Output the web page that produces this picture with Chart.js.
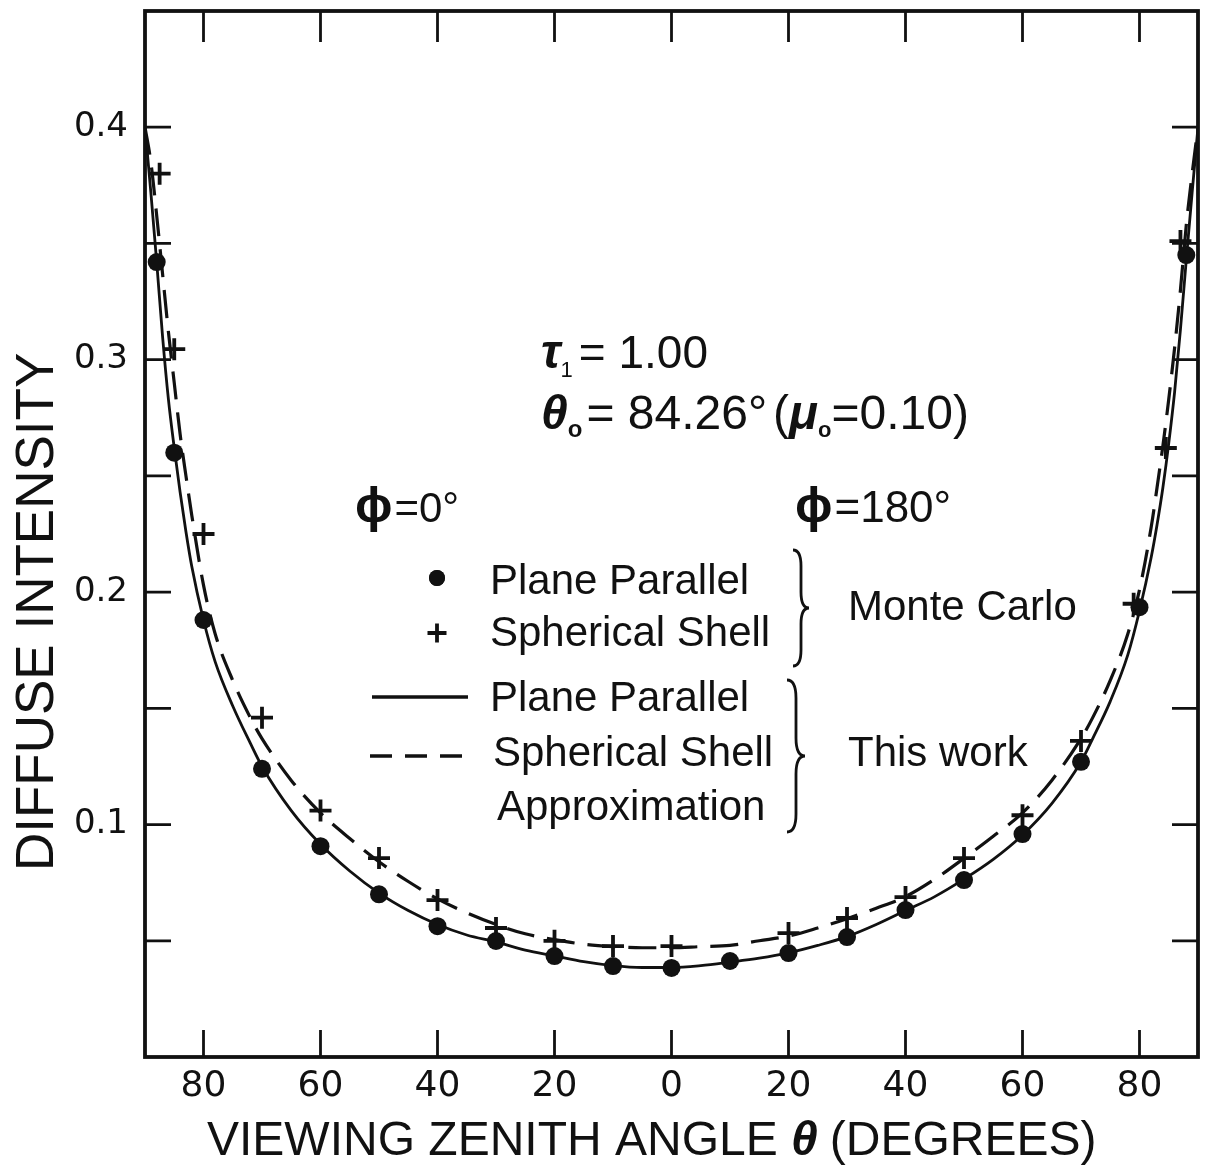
<!DOCTYPE html>
<html>
<head>
<meta charset="utf-8">
<script src="https://cdn.jsdelivr.net/npm/chart.js@4.4.1/dist/chart.umd.min.js"></script>
<style>
  html, body { margin: 0; padding: 0; background: #ffffff; }
  canvas { display: block; }
</style>
</head>
<body>
<canvas id="chart" width="1205" height="1165"></canvas>
<script>
// Viewing zenith angle in degrees: negative side is phi = 0°, positive side is phi = 180°.

// Monte Carlo, plane parallel (dots)
const planeMcAngles = [-88, -85, -80, -70, -60, -50, -40, -30, -20, -10, 0,
                       10, 20, 30, 40, 50, 60, 70, 80, 88];
const planeMcValues = [0.342, 0.260, 0.188, 0.124, 0.0907, 0.070, 0.0563, 0.0499, 0.0434, 0.0391, 0.0383,
                       0.0413, 0.0447, 0.0516, 0.0632, 0.0761, 0.0959, 0.127, 0.1935, 0.345];

// Monte Carlo, spherical shell (crosses)
const shellMcAngles = [-87.5, -85, -80, -70, -60, -50, -40, -30, -20, -10, 0,
                       20, 30, 40, 50, 60, 70, 79, 84.5, 87];
const shellMcValues = [0.380, 0.3045, 0.225, 0.146, 0.106, 0.0856, 0.0675, 0.0555, 0.050, 0.0477, 0.0477,
                       0.0533, 0.0598, 0.0688, 0.0856, 0.104, 0.136, 0.195, 0.262, 0.351];

// This work, plane parallel (solid curve)
const planeCurveAngles = [-90, -89, -88, -87, -86, -85, -84, -83, -82, -80, -78, -75, -72, -70, -65, -60,
                          -55, -50, -45, -40, -35, -30, -25, -20, -15, -10, -5, 0,
                          5, 10, 15, 20, 25, 30, 35, 40, 45, 50, 55, 60, 65, 70, 72, 75, 78,
                          80, 82, 83, 84, 85, 86, 87, 88, 89, 90];
const planeCurveValues = [0.400, 0.372, 0.342, 0.310, 0.283, 0.262, 0.243, 0.226, 0.211, 0.188, 0.170, 0.151, 0.135, 0.125, 0.106, 0.0915,
                          0.080, 0.0705, 0.063, 0.057, 0.0525, 0.0495, 0.046, 0.0435, 0.041, 0.0393, 0.0385, 0.0385,
                          0.0393, 0.0408, 0.0425, 0.0448, 0.048, 0.0518, 0.057, 0.063, 0.069, 0.0765, 0.085, 0.0955, 0.109, 0.127, 0.137, 0.153, 0.173,
                          0.192, 0.215, 0.229, 0.245, 0.264, 0.286, 0.313, 0.343, 0.372, 0.400];

// This work, spherical shell approximation (dashed curve)
const shellCurveAngles = [-90, -89, -88, -87, -86, -85, -84, -83, -82, -80, -78, -75, -72, -70, -65, -60,
                          -55, -50, -45, -40, -35, -30, -25, -20, -15, -10, -5, 0,
                          5, 10, 15, 20, 25, 30, 35, 40, 45, 50, 55, 60, 65, 70, 72, 75, 78,
                          80, 82, 83, 84, 85, 86, 87, 88, 89, 90];
const shellCurveValues = [0.400, 0.385, 0.362, 0.337, 0.312, 0.290, 0.268, 0.250, 0.233, 0.203, 0.182, 0.162, 0.146, 0.137, 0.119, 0.105,
                          0.094, 0.084, 0.0755, 0.068, 0.062, 0.057, 0.053, 0.0505, 0.0485, 0.0475, 0.047, 0.047,
                          0.0475, 0.048, 0.050, 0.052, 0.0555, 0.0595, 0.064, 0.069, 0.0765, 0.0855, 0.095, 0.105, 0.119, 0.137, 0.146, 0.162, 0.182,
                          0.201, 0.228, 0.245, 0.263, 0.283, 0.305, 0.330, 0.358, 0.380, 0.400];

// Axis ticks
const xTickValues = [-80, -60, -40, -20, 0, 20, 40, 60, 80];
const xTickLabels = ['80', '60', '40', '20', '0', '20', '40', '60', '80'];
const yTickValues = [0.05, 0.10, 0.15, 0.20, 0.25, 0.30, 0.35, 0.40];
const yTickLabels = ['', '0.1', '', '0.2', '', '0.3', '', '0.4'];

const INK = '#111111';
const SANS = '"Liberation Sans", Arial, sans-serif';
const TICK_FONT = '"DejaVu Sans", sans-serif';

const toPoints = (xs, ys) => xs.map((x, i) => ({ x, y: ys[i] }));

function drawRuns(ctx, x, baseline, runs) {
  let cx = x;
  runs.forEach(r => {
    ctx.font = r.font;
    ctx.fillText(r.t, cx + (r.dx || 0), baseline + (r.dy || 0));
    cx += ctx.measureText(r.t).width + (r.dx || 0) + (r.after || 0);
  });
  return cx;
}

function drawBrace(ctx, x, y1, y2, w) {
  const ym = (y1 + y2) / 2;
  const r = w / 2;
  ctx.beginPath();
  ctx.moveTo(x, y1);
  ctx.quadraticCurveTo(x + r, y1, x + r, y1 + 2 * r);
  ctx.lineTo(x + r, ym - 2 * r);
  ctx.quadraticCurveTo(x + r, ym, x + w, ym);
  ctx.quadraticCurveTo(x + r, ym, x + r, ym + 2 * r);
  ctx.lineTo(x + r, y2 - 2 * r);
  ctx.quadraticCurveTo(x + r, y2, x, y2);
  ctx.stroke();
}

// Full box frame with inward tick marks on all four sides
const framePlugin = {
  id: 'frameTicks',
  afterDatasetsDraw(chart) {
    const { ctx, chartArea: a, scales: { x, y } } = chart;
    ctx.save();
    ctx.strokeStyle = INK;
    ctx.lineWidth = 2.8;
    ctx.beginPath();
    xTickValues.forEach(v => {
      const px = x.getPixelForValue(v);
      ctx.moveTo(px, a.bottom); ctx.lineTo(px, a.bottom - 27);
      ctx.moveTo(px, a.top); ctx.lineTo(px, a.top + 31);
    });
    yTickValues.forEach(v => {
      const py = y.getPixelForValue(v);
      ctx.moveTo(a.left, py); ctx.lineTo(a.left + 26, py);
      ctx.moveTo(a.right, py); ctx.lineTo(a.right - 26, py);
    });
    ctx.stroke();
    ctx.lineWidth = 3.8;
    ctx.strokeRect(a.left, a.top, a.right - a.left, a.bottom - a.top);
    ctx.restore();
  }
};

// Axis titles, parameter block and bracketed key
const textPlugin = {
  id: 'annotationText',
  afterDraw(chart) {
    const { ctx } = chart;
    const ds = chart.data.datasets;
    ctx.save();
    ctx.fillStyle = INK;
    ctx.strokeStyle = INK;
    ctx.textAlign = 'left';
    ctx.textBaseline = 'alphabetic';

    // x-axis title
    drawRuns(ctx, 207, 1155, [
      { t: 'VIEWING ZENITH ANGLE ', font: '48px ' + SANS },
      { t: 'θ', font: 'italic bold 48px ' + SANS, after: 12 },
      { t: '(DEGREES)', font: '48px ' + SANS }
    ]);

    // y-axis title
    ctx.save();
    ctx.translate(53, 871);
    ctx.rotate(-Math.PI / 2);
    ctx.font = '53px ' + SANS;
    ctx.fillText('DIFFUSE INTENSITY', 0, 0);
    ctx.restore();

    // optical depth and solar zenith angle
    drawRuns(ctx, 541, 368, [
      { t: 'τ', font: 'italic bold 48px ' + SANS },
      { t: '1', font: '22px ' + SANS, dy: 9, after: 6 },
      { t: '= 1.00', font: '46px ' + SANS }
    ]);
    drawRuns(ctx, 541, 429, [
      { t: 'θ', font: 'italic bold 48px ' + SANS },
      { t: 'o', font: 'bold 24px ' + SANS, dy: 8, after: 4 },
      { t: '= 84.26°', font: '48px ' + SANS, after: 6 },
      { t: '(', font: '48px ' + SANS },
      { t: 'μ', font: 'italic bold 48px ' + SANS },
      { t: 'o', font: 'bold 22px ' + SANS, dy: 8 },
      { t: '=0.10)', font: '48px ' + SANS }
    ]);

    // azimuth labels
    drawRuns(ctx, 355, 522, [
      { t: 'ϕ', font: 'bold 50px ' + SANS, after: 2 },
      { t: '=0°', font: '42px ' + SANS }
    ]);
    drawRuns(ctx, 795, 522, [
      { t: 'ϕ', font: 'bold 50px ' + SANS, after: 2 },
      { t: '=180°', font: '44px ' + SANS }
    ]);

    // key: Monte Carlo symbols
    const dotDs = ds[0], crossDs = ds[1], solidDs = ds[2];
    Chart.helpers.drawPoint(ctx, { pointStyle: dotDs.pointStyle, radius: 8, borderWidth: 0, rotation: 0 }, 437, 578);
    ctx.fill();
    ctx.lineWidth = crossDs.pointBorderWidth;
    Chart.helpers.drawPoint(ctx, { pointStyle: crossDs.pointStyle, radius: 9.5, borderWidth: crossDs.pointBorderWidth, rotation: 0 }, 437, 633);
    ctx.font = '42px ' + SANS;
    ctx.textBaseline = 'middle';
    ctx.fillText('Plane Parallel', 490, 582);
    ctx.fillText('Spherical Shell', 490, 634);
    ctx.fillText('Monte Carlo', 848, 608);

    // key: analytic curves
    ctx.lineWidth = solidDs.borderWidth + 0.8;
    ctx.beginPath(); ctx.moveTo(372, 697); ctx.lineTo(468, 697); ctx.stroke();
    ctx.setLineDash([22, 13]);
    ctx.beginPath(); ctx.moveTo(370, 756); ctx.lineTo(468, 756); ctx.stroke();
    ctx.setLineDash([]);
    ctx.fillText('Plane Parallel', 490, 699);
    ctx.fillText('Spherical Shell', 493, 754);
    ctx.fillText('Approximation', 497, 808);
    ctx.fillText('This work', 848, 754);

    // braces grouping the key entries
    ctx.lineWidth = 2.8;
    drawBrace(ctx, 793, 550, 666, 16);
    drawBrace(ctx, 787, 680, 832, 18);
    ctx.restore();
  }
};

const chart = new Chart(document.getElementById('chart'), {
  type: 'scatter',
  data: {
    datasets: [
      {
        label: 'Plane Parallel (Monte Carlo)',
        data: toPoints(planeMcAngles, planeMcValues),
        pointStyle: 'circle',
        pointRadius: 9,
        pointBackgroundColor: INK,
        pointBorderColor: INK,
        pointBorderWidth: 0,
        showLine: false,
        order: 0
      },
      {
        label: 'Spherical Shell (Monte Carlo)',
        data: toPoints(shellMcAngles, shellMcValues),
        pointStyle: 'cross',
        pointRadius: 11,
        pointBorderColor: INK,
        pointBorderWidth: 3.8,
        showLine: false,
        order: 0
      },
      {
        label: 'Plane Parallel (This work)',
        data: toPoints(planeCurveAngles, planeCurveValues),
        showLine: true,
        borderColor: INK,
        borderWidth: 2.8,
        pointRadius: 0,
        cubicInterpolationMode: 'monotone',
        order: 1
      },
      {
        label: 'Spherical Shell Approximation (This work)',
        data: toPoints(shellCurveAngles, shellCurveValues),
        showLine: true,
        borderColor: INK,
        borderWidth: 3.2,
        borderDash: [28, 13],
        pointRadius: 0,
        cubicInterpolationMode: 'monotone',
        order: 1
      }
    ]
  },
  options: {
    responsive: false,
    animation: false,
    devicePixelRatio: 1,
    layout: { autoPadding: false, padding: { top: 11, right: 7, left: 0, bottom: 0 } },
    plugins: {
      legend: { display: false },
      tooltip: { enabled: false },
      title: { display: false }
    },
    scales: {
      x: {
        type: 'linear',
        min: -90,
        max: 90,
        grid: { display: false, drawTicks: false },
        border: { display: false },
        afterBuildTicks: s => { s.ticks = xTickValues.map(v => ({ value: v })); },
        afterFit: s => { s.height = 108; s.paddingLeft = 0; s.paddingRight = 0; },
        ticks: {
          autoSkip: false,
          maxRotation: 0,
          padding: 8,
          color: INK,
          font: { family: TICK_FONT, size: 36, lineHeight: 1.2 },
          callback: (v, i) => xTickLabels[i]
        }
      },
      y: {
        type: 'linear',
        min: 0,
        max: 0.45,
        grid: { display: false, drawTicks: false },
        border: { display: false },
        afterBuildTicks: s => { s.ticks = yTickValues.map(v => ({ value: v })); },
        afterFit: s => { s.width = 145; s.paddingTop = 0; s.paddingBottom = 0; },
        ticks: {
          autoSkip: false,
          padding: 17,
          color: INK,
          font: { family: TICK_FONT, size: 34, lineHeight: 1.2 },
          callback: (v, i) => yTickLabels[i]
        }
      }
    }
  },
  plugins: [framePlugin, textPlugin]
});
</script>
</body>
</html>
